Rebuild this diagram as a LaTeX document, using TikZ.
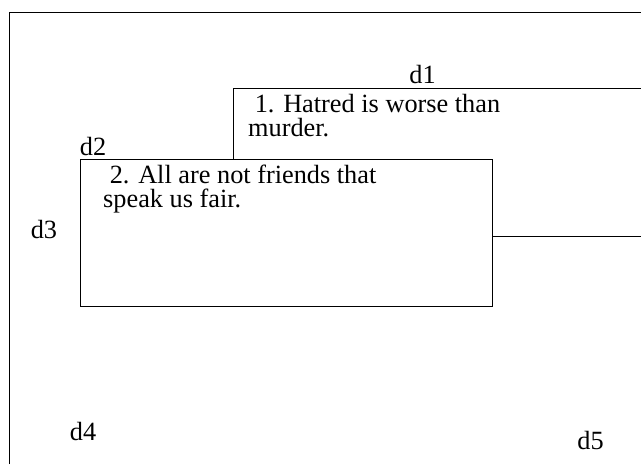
\documentclass[tikz,border=0pt]{standalone}
\usepackage{fontspec}
\setmainfont{Liberation Serif}
\usetikzlibrary{positioning,calc}
\newcommand\quotefont{\fontsize{26.3}{24}\selectfont}
\tikzset{
  frame/.style={draw=black, line width=1pt},
  panel/.style={draw=black, line width=1pt, fill=white, inner sep=0pt, outer sep=0pt, anchor=north west},
  quote/.style={anchor=base west, align=left, inner sep=0pt, font=\quotefont},
  tag/.style={anchor=base, inner sep=0pt, font=\quotefont}
}
\begin{document}
\begin{tikzpicture}[x=1pt, y=-1pt]
  \useasboundingbox (0,0) rectangle (641,464);
  \fill[white] (0,0) rectangle (641,464);
  \clip (0,0) rectangle (641,464);
  % outer frame, open to the right and below
  \draw[frame] (9.5,464) -- (9.5,12) -- (641,12);
  % the two panels, the second one lies on top
  \node[panel, minimum width=480pt, minimum height=148.5pt] (box1) at (233,88) {};
  \node[panel, minimum width=412.5pt, minimum height=147.5pt] (box2) at (80,159) {};
  \node[quote] (q1) at ([shift={(15,48)}]box1.north west) {~1. Hatred is worse than\\murder.};
  \node[quote] (q2) at ([shift={(23,48)}]box2.north west) {~2. All are not friends that\\speak us fair.};
  % labels
  \node[tag] (d1) at (422.5,83) {d1};
  \node[tag] (d2) at (93,155) {d2};
  \node[tag] (d3) at (44,238) {d3};
  \node[tag] (d4) at (83,440) {d4};
  \node[tag] (d5) at (590.5,449) {d5};
\end{tikzpicture}
\end{document}
